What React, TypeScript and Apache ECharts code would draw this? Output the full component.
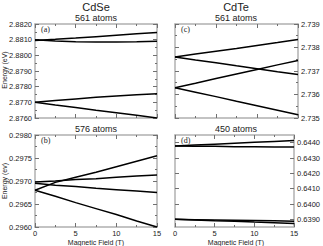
import React, { useEffect, useRef } from "react";
import * as echarts from "echarts";

const FIELD = [0, 2.5, 5, 7.5, 10, 12.5, 15];

// Panel (a) CdSe 561 atoms
const A1 = [2.88095, 2.88102, 2.8811, 2.88119, 2.88128, 2.88137, 2.88145];
const A2 = [2.881, 2.88092, 2.88087, 2.88085, 2.88085, 2.88087, 2.8809];
const A3 = [2.877, 2.87711, 2.87722, 2.87732, 2.87741, 2.87748, 2.87755];
const A4 = [2.877, 2.87683, 2.87667, 2.8765, 2.87634, 2.87617, 2.876];
// Panel (b) CdSe 576 atoms
const B1 = [0.2968, 0.29697, 0.29708, 0.29719, 0.29731, 0.29743, 0.29755];
const B2 = [0.29698, 0.297, 0.29703, 0.29705, 0.29708, 0.29711, 0.29713];
const B3 = [0.29695, 0.29691, 0.29688, 0.29684, 0.29681, 0.29678, 0.29675];
const B4 = [0.2968, 0.29667, 0.29653, 0.2964, 0.29627, 0.29613, 0.296];
// Panel (c) CdTe 561 atoms
const C1 = [2.7376, 2.73772, 2.73784, 2.73796, 2.73809, 2.73821, 2.73834];
const C2 = [2.7376, 2.73747, 2.73735, 2.73722, 2.7371, 2.73697, 2.73685];
const C3 = [2.73629, 2.73648, 2.73668, 2.73687, 2.73706, 2.73726, 2.73745];
const C4 = [2.73629, 2.7361, 2.73591, 2.73571, 2.73552, 2.73533, 2.73514];
// Panel (d) CdTe 450 atoms
const D1 = [0.64378, 0.64384, 0.6439, 0.64396, 0.64402, 0.64408, 0.64414];
const D2 = [0.64378, 0.64377, 0.64376, 0.64374, 0.64373, 0.64372, 0.64371];
const D3 = [0.639, 0.63898, 0.63896, 0.63894, 0.63892, 0.6389, 0.63888];
const D4 = [0.639, 0.63896, 0.63891, 0.63887, 0.63882, 0.63878, 0.63873];

const A_TICKS = [2.876, 2.877, 2.878, 2.879, 2.88, 2.881, 2.882];
const B_TICKS = [0.296, 0.2965, 0.297, 0.2975, 0.298];
const C_TICKS = [2.735, 2.736, 2.737, 2.738, 2.739];
const D_TICKS = [0.639, 0.64, 0.641, 0.642, 0.643, 0.644];

const PANELS = [
  { lines: [A1, A2, A3, A4], ticks: A_TICKS, min: 2.876, max: 2.882, interval: 0.001, dec: 4, side: "left", xLabels: false, custom: false },
  { lines: [B1, B2, B3, B4], ticks: B_TICKS, min: 0.296, max: 0.298, interval: 0.0005, dec: 4, side: "left", xLabels: true, custom: false },
  { lines: [C1, C2, C3, C4], ticks: C_TICKS, min: 2.735, max: 2.739, interval: 0.001, dec: 3, side: "right", xLabels: false, custom: false },
  { lines: [D1, D2, D3, D4], ticks: D_TICKS, min: 0.6385, max: 0.6445, interval: 0.001, dec: 4, side: "right", xLabels: true, custom: true },
];

const GRIDS = [
  { left: 35, top: 24, width: 122, height: 94 },
  { left: 35, top: 135, width: 122, height: 92 },
  { left: 175, top: 24, width: 123, height: 94 },
  { left: 175, top: 135, width: 123, height: 92 },
];

const FRAME = "#b0b0b0";
const TICK = "#707070";
const TXT = "#222";
const FONT = "Liberation Sans, Arial, sans-serif";

export default function App() {
  const ref = useRef<HTMLDivElement>(null);
  useEffect(() => {
    if (!ref.current) return;
    const chart = echarts.init(ref.current, null, { renderer: "svg" });
    const xAxis: any[] = [];
    const yAxis: any[] = [];
    const series: any[] = [];
    PANELS.forEach((p, i) => {
      ["bottom", "top"].forEach((pos) => {
        xAxis.push({
          gridIndex: i,
          type: "value",
          position: pos,
          min: 0,
          max: 15,
          interval: 5,
          axisLine: { show: true, onZero: false, lineStyle: { color: FRAME, width: 1.5 } },
          axisTick: { show: true, inside: true, length: 4, lineStyle: { color: TICK } },
          minorTick: { show: true, splitNumber: 2, length: 2, lineStyle: { color: TICK } },
          axisLabel: {
            show: pos === "bottom" && p.xLabels,
            fontSize: 7.5,
            lineHeight: 8,
            color: TXT,
            fontFamily: FONT,
            margin: 2,
          },
          splitLine: { show: false },
        });
      });
      ["left", "right"].forEach((pos) => {
        const labeled = pos === p.side;
        const ax: any = {
          gridIndex: i,
          type: "value",
          position: pos,
          min: p.min,
          max: p.max,
          axisLine: { show: true, onZero: false, lineStyle: { color: FRAME, width: 1.5 } },
          axisTick: { show: true, inside: true, length: 4, lineStyle: { color: TICK } },
          axisLabel: {
            show: labeled,
            fontSize: 7.5,
            color: TXT,
            fontFamily: FONT,
            margin: 3,
            formatter: (v: number) => v.toFixed(p.dec),
          },
          splitLine: { show: false },
        };
        if (p.custom) {
          ax.axisTick.customValues = p.ticks;
          ax.axisLabel.customValues = p.ticks;
        } else {
          ax.interval = p.interval;
          ax.minorTick = { show: true, splitNumber: 2, length: 2, lineStyle: { color: TICK } };
        }
        yAxis.push(ax);
      });
      p.lines.forEach((vals) => {
        series.push({
          type: "line",
          xAxisIndex: i * 2,
          yAxisIndex: i * 2,
          data: FIELD.map((f, k) => [f, vals[k]]),
          symbol: "none",
          smooth: false,
          lineStyle: { color: "#000", width: 1.5 },
        });
      });
    });

    const text = (x: number, y: number, t: string, size: number, extra: any = {}) => ({
      type: "text",
      x,
      y,
      style: {
        text: t,
        fontSize: size,
        fontFamily: FONT,
        fill: TXT,
        textAlign: "center",
        textVerticalAlign: "middle",
        ...extra,
      },
    });

    const serif = { textAlign: "left", fontFamily: "Liberation Serif, serif" };
    const graphic: any[] = [
      text(96, 7, "CdSe", 11),
      text(96, 18, "561 atoms", 9),
      text(236, 7, "CdTe", 11),
      text(236, 18, "561 atoms", 9),
      text(96, 129, "576 atoms", 9),
      text(236, 129, "450 atoms", 9),
      text(96, 242.5, "Magnetic Field (T)", 7),
      text(236, 242.5, "Magnetic Field (T)", 7),
      text(41, 29, "(a)", 8, serif),
      text(41, 140, "(b)", 8, serif),
      text(181, 29, "(c)", 8, serif),
      text(181, 140, "(d)", 8, serif),
      { ...text(0, 0, "Energy (eV)", 7), x: 4.5, y: 70, rotation: Math.PI / 2 },
      { ...text(0, 0, "Energy (ev)", 7), x: 4.5, y: 181, rotation: Math.PI / 2 },
    ];

    chart.setOption({
      animation: false,
      backgroundColor: "#fff",
      grid: GRIDS,
      xAxis,
      yAxis,
      series,
      graphic,
    });
    return () => chart.dispose();
  }, []);
  return <div ref={ref} style={{ width: 323, height: 246, position: "absolute", left: 0, top: 0 }} />;
}
